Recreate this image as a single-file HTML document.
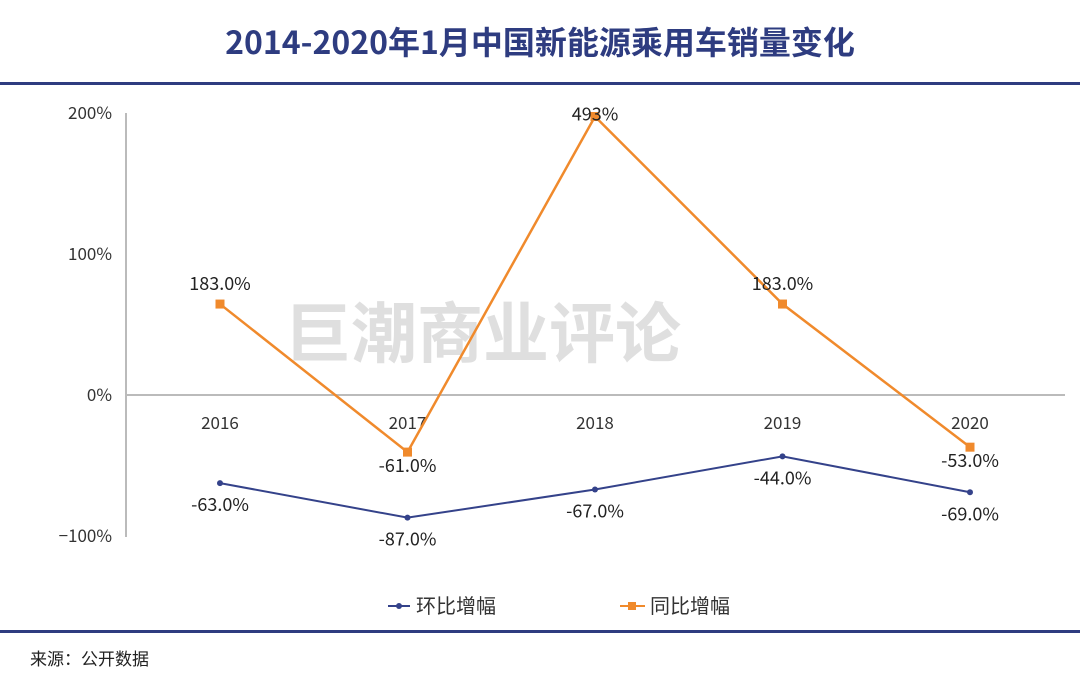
<!DOCTYPE html>
<html><head><meta charset="utf-8">
<style>
body{margin:0;width:1080px;height:686px;background:#fff;overflow:hidden;font-family:"Noto Sans CJK SC","Liberation Sans",sans-serif;}
svg{display:block;font-family:"Noto Sans CJK SC","Liberation Sans",sans-serif;}
</style></head>
<body>
<svg id="chart" width="1080" height="686">
<text x="540" y="54" text-anchor="middle" font-size="32" font-weight="bold" fill="#2e3c80">2014-2020年1月中国新能源乘用车销量变化</text>
<rect x="0" y="82" width="1080" height="3" fill="#2e3c80"/>
<rect x="0" y="630" width="1080" height="3" fill="#2e3c80"/>
<text x="30" y="665" font-size="17" fill="#222">来源：公开数据</text>
<text x="483" y="357" text-anchor="middle" font-size="66" font-weight="bold" fill="#d8d8d8" opacity="0.8">巨潮商业评论</text>
<g id="plot"></g>
<g>
<g>
<line x1="388" y1="606" x2="410" y2="606" stroke="#34428a" stroke-width="2"/><circle cx="399" cy="606" r="3" fill="#34428a"/>
<text x="416" y="613" font-size="20" fill="#333">环比增幅</text></g>
<g>
<line x1="620" y1="606" x2="645" y2="606" stroke="#f08a2c" stroke-width="2"/><rect x="628" y="602" width="8" height="8" fill="#f08a2c"/>
<text x="650" y="613" font-size="20" fill="#333">同比增幅</text></g>
</g>
</svg>
<script>
const categories=["2016","2017","2018","2019","2020"];
const momValues=[-62.5,-87,-67,-43.5,-69];
const momLabels=["-63.0%","-87.0%","-67.0%","-44.0%","-69.0%"];
const yoyValues=[64.5,-40.5,197.5,64.5,-37];
const yoyLabels=["183.0%","-61.0%","493%","183.0%","-53.0%"];
const yTicks=[200,100,0,-100];
const yTickLabels=["200%","100%","0%","\u2212100%"];
const NS="http://www.w3.org/2000/svg";
const g=document.getElementById('plot');
function y(v){return 395-v*1.41;}
function x(i){return 220+i*187.5;}
function mk(t,a,txt){const e=document.createElementNS(NS,t);for(const k in a)e.setAttribute(k,a[k]);if(txt!==undefined)e.textContent=txt;g.appendChild(e);return e;}
let e=mk('line',{x1:126,y1:113,x2:126,y2:537,stroke:'#bbb','stroke-width':2});


e=mk('line',{x1:126,y1:y(0),x2:1065,y2:y(0),stroke:'#bbb','stroke-width':2});


yTicks.forEach((v,i)=>{
 const t=mk('text',{x:112,y:y(v)+6,'text-anchor':'end','font-size':17,fill:'#333'},yTickLabels[i]);
 
 
});
categories.forEach((c,i)=>{
 const t=mk('text',{x:x(i),y:429,'text-anchor':'middle','font-size':17,fill:'#333'},c);
 
 
});
e=mk('polyline',{points:momValues.map((v,i)=>x(i)+','+y(v)).join(' '),fill:'none',stroke:'#34428a','stroke-width':2});


e=mk('polyline',{points:yoyValues.map((v,i)=>x(i)+','+y(v)).join(' '),fill:'none',stroke:'#f08a2c','stroke-width':2.5});


momValues.forEach((v,i)=>{
 const p=mk('circle',{cx:x(i),cy:y(v),r:3,fill:'#34428a'});
 
 
 const t=mk('text',{x:x(i),y:y(v)+28,'text-anchor':'middle','font-size':18,fill:'#222'},momLabels[i]);
 
 
});
yoyValues.forEach((v,i)=>{
 const p=mk('rect',{x:x(i)-4.5,y:y(v)-4.5,width:9,height:9,fill:'#f08a2c'});
 
 
 const below=v<0;
 let ly=below?y(v)+20:y(v)-14;
 if(ly<110) ly=y(v)+4;
 const t=mk('text',{x:x(i),y:ly,'text-anchor':'middle','font-size':18,fill:'#222'},yoyLabels[i]);
 
 
});
</script>
</body></html>
